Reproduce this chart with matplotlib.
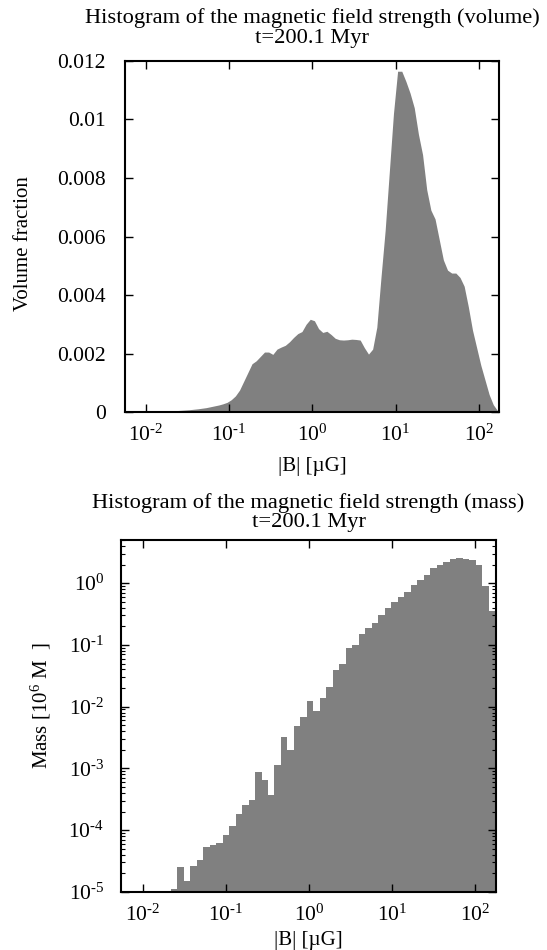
import numpy as np
import matplotlib
matplotlib.use("Agg")
import matplotlib.pyplot as plt
from matplotlib.ticker import FixedLocator, FixedFormatter, LogLocator, NullFormatter, NullLocator

plt.rcParams.update({
    "font.family": ["Liberation Serif", "DejaVu Serif"],
    "font.size": 15,
    "mathtext.fontset": "custom",
    "mathtext.rm": "Liberation Serif",
    "mathtext.it": "Liberation Serif:italic",
    "axes.linewidth": 1.5,
})

# volume histogram: values read at log10|B| = -2.225, -2.175, ... 2.225 (0.05 dex)
vol_log_b = np.linspace(-2.225, 2.225, 90)
vol_frac = np.array([
    0.0, 0.005, 0.008, 0.01, 0.012, 0.015, 0.018, 0.022, 0.027, 0.033,
    0.04, 0.045, 0.05, 0.06, 0.07, 0.08, 0.095, 0.11, 0.13, 0.15,
    0.18, 0.21, 0.24, 0.28, 0.33, 0.42, 0.55, 0.75, 1.05, 1.35,
    1.65, 1.75, 1.90, 2.05, 2.05, 1.97, 2.15, 2.22, 2.28, 2.40,
    2.55, 2.68, 2.75, 3.00, 3.17, 3.12, 2.85, 2.72, 2.76, 2.65,
    2.52, 2.47, 2.46, 2.47, 2.49, 2.48, 2.46, 2.20, 1.98, 2.15,
    2.9, 4.6, 6.2, 8.2, 10.2, 11.65, 11.65, 11.3, 10.9, 10.4,
    9.5, 8.8, 7.6, 6.9, 6.6, 5.9, 5.2, 4.85, 4.75, 4.75,
    4.6, 4.3, 3.6, 2.8, 2.2, 1.6, 1.1, 0.6, 0.25, 0.05,
]) * 1e-3

# mass histogram: bins of 0.078 dex, edges -1.584 + 0.078*k, k = -9..50
mass_log_edges = -1.584 + 0.078 * np.arange(-9, 51)
mass = np.array([
    0, 0, 0, 0, 0, 0, 0, 0, 1.12e-5,
    2.57e-5, 1.5e-5, 2.6e-5, 3.3e-5, 5.4e-5, 5.8e-5, 6.3e-5, 8.3e-5, 1.17e-4, 1.8e-4,
    2.6e-4, 3.1e-4, 8.9e-4, 6.5e-4, 3.7e-4, 1.12e-3, 3.2e-3, 2.0e-3, 4.8e-3, 6.9e-3,
    1.23e-2, 8.5e-3, 1.38e-2, 2.1e-2, 3.9e-2, 5.0e-2, 8.9e-2, 0.10, 0.15, 0.186,
    0.224, 0.31, 0.39, 0.50, 0.60, 0.72, 0.93, 1.12, 1.35, 1.74,
    2.0, 2.19, 2.45, 2.51, 2.45, 2.34, 2.0, 0.89, 0.35, 0.18,
])

xticks = [1e-2, 1e-1, 1e0, 1e1, 1e2]
xticklabels = [r"10$^{\text{-2}}$", r"10$^{\text{-1}}$", r"10$^{\text{0}}$",
               r"10$^{\text{1}}$", r"10$^{\text{2}}$"]
vol_yticks = [0, 0.002, 0.004, 0.006, 0.008, 0.01, 0.012]
vol_yticklabels = ["0", "0.002", "0.004", "0.006", "0.008", "0.01", "0.012"]
mass_yticks = [1e-5, 1e-4, 1e-3, 1e-2, 1e-1, 1e0]
mass_yticklabels = [r"10$^{\text{-5}}$", r"10$^{\text{-4}}$", r"10$^{\text{-3}}$",
                    r"10$^{\text{-2}}$", r"10$^{\text{-1}}$", r"10$^{\text{0}}$"]

grey = "#808080"
fig = plt.figure(figsize=(5.47, 9.5), dpi=100)

# top: volume fraction
ax1 = fig.add_axes([0.2285, 0.5663, 0.6838, 0.3695])
ax1.fill_between(10**vol_log_b, vol_frac, 0, color=grey, linewidth=0)
ax1.set_xscale("log")
ax1.set_xlim(10**-2.252, 10**2.244)
ax1.set_ylim(0, 0.012)
ax1.xaxis.set_major_locator(FixedLocator(xticks))
ax1.xaxis.set_major_formatter(FixedFormatter(xticklabels))
ax1.xaxis.set_minor_locator(NullLocator())
ax1.set_yticks(vol_yticks)
ax1.set_yticklabels(vol_yticklabels)
ax1.set_xlabel("|B| [µG]", labelpad=8)
ax1.set_ylabel("Volume fraction")
ax1.yaxis.set_label_coords(-0.245, 0.48)
ax1.set_title("Histogram of the magnetic field strength (volume)\nt=200.1 Myr",
              pad=13, linespacing=1.1, fontsize=16.2)
ax1.tick_params(direction="in", top=True, right=True, length=6, width=1, pad=9,
                labelsize=15.5)
ax1.tick_params(axis="y", pad=14)

# bottom: mass
ax2 = fig.add_axes([0.2212, 0.0611, 0.6856, 0.3705])
m = np.where(mass > 0, mass, 1e-8)
ax2.stairs(m, 10**mass_log_edges, fill=True, color=grey, linewidth=0, baseline=1e-8)
ax2.set_xscale("log")
ax2.set_yscale("log")
ax2.set_xlim(10**-2.26, 10**2.25)
ax2.set_ylim(1e-5, 5.0)
ax2.xaxis.set_major_locator(FixedLocator(xticks))
ax2.xaxis.set_major_formatter(FixedFormatter(xticklabels))
ax2.xaxis.set_minor_locator(NullLocator())
ax2.yaxis.set_major_locator(FixedLocator(mass_yticks))
ax2.yaxis.set_major_formatter(FixedFormatter(mass_yticklabels))
ax2.yaxis.set_minor_locator(LogLocator(base=10, subs=np.arange(2, 10), numticks=20))
ax2.yaxis.set_minor_formatter(NullFormatter())
ax2.set_xlabel("|B| [µG]", labelpad=4)
ax2.set_ylabel(r"Mass [10$^{\text{6}}$ M  ]")
ax2.yaxis.set_label_coords(-0.18, 0.53)
ax2.set_title("Histogram of the magnetic field strength (mass)\nt=200.1 Myr",
              pad=9, linespacing=1.05, fontsize=16.2)
ax2.tick_params(direction="in", top=True, right=True, length=6, width=1, pad=9,
                labelsize=15.5)
ax2.tick_params(which="minor", direction="in", right=True, length=3, width=0.8)
ax2.tick_params(axis="y", pad=12)

fig.savefig("out.png", dpi=100)
